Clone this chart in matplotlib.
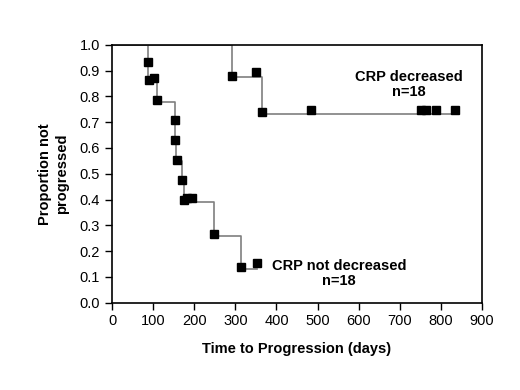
import matplotlib.pyplot as plt
import numpy as np

plt.rcParams['font.family'] = ['Liberation Sans', 'DejaVu Sans']

# Kaplan-Meier step curves (days, proportion not progressed)
lo_step_t = [0, 87, 109, 153, 156, 171, 175, 249, 314, 352]
lo_step_s = [1.0, 0.87, 0.78, 0.63, 0.55, 0.47, 0.39, 0.26, 0.13, 0.13]
hi_step_t = [0, 291, 364, 826]
hi_step_s = [1.0, 0.875, 0.73, 0.73]

# square markers
lo_mark_t = [87, 91, 101, 110, 153, 154, 157, 171, 174, 182, 195, 249, 314, 352]
lo_mark_s = [0.935, 0.864, 0.873, 0.787, 0.708, 0.631, 0.554, 0.476, 0.398,
             0.407, 0.407, 0.265, 0.137, 0.153]
hi_mark_t = [291, 350, 364, 484, 751, 763, 787, 834]
hi_mark_s = [0.881, 0.896, 0.741, 0.748, 0.748, 0.748, 0.748, 0.748]

x_ticks = list(range(0, 901, 100))
y_ticks = [round(v, 1) for v in np.arange(0, 1.01, 0.1)]

fig = plt.figure(figsize=(5.2, 3.9), dpi=100)
ax = fig.add_axes([0.2154, 0.224, 0.7115, 0.661])

ax.plot(lo_step_t, lo_step_s, drawstyle='steps-post', color='#7f7f7f', lw=1.2)
ax.plot(hi_step_t, hi_step_s, drawstyle='steps-post', color='#7f7f7f', lw=1.2)
ax.plot(lo_mark_t, lo_mark_s, 's', color='black', ms=6, clip_on=False)
ax.plot(hi_mark_t, hi_mark_s, 's', color='black', ms=6, clip_on=False)

ax.set_xlim(0, 900)
ax.set_ylim(0, 1.0)
ax.set_xticks(x_ticks)
ax.set_yticks(y_ticks)
ax.set_yticklabels([f'{v:.1f}' for v in y_ticks])
ax.tick_params(direction='out', length=5, width=1, labelsize=10.5, colors='black')
for s in ax.spines.values():
    s.set_linewidth(1.2)
    s.set_color('black')

ax.set_xlabel('Time to Progression (days)', fontsize=10.5, fontweight='bold', labelpad=10)
ax.set_ylabel('Proportion not\nprogressed', fontsize=10.5, fontweight='bold', labelpad=8)

ax.text(723, 0.846, 'CRP decreased\nn=18', ha='center', va='center',
        fontsize=10.5, fontweight='bold', linespacing=1.1)
ax.text(552, 0.112, 'CRP not decreased\nn=18', ha='center', va='center',
        fontsize=10.5, fontweight='bold', linespacing=1.1)

fig.savefig('out.png', dpi=100)
